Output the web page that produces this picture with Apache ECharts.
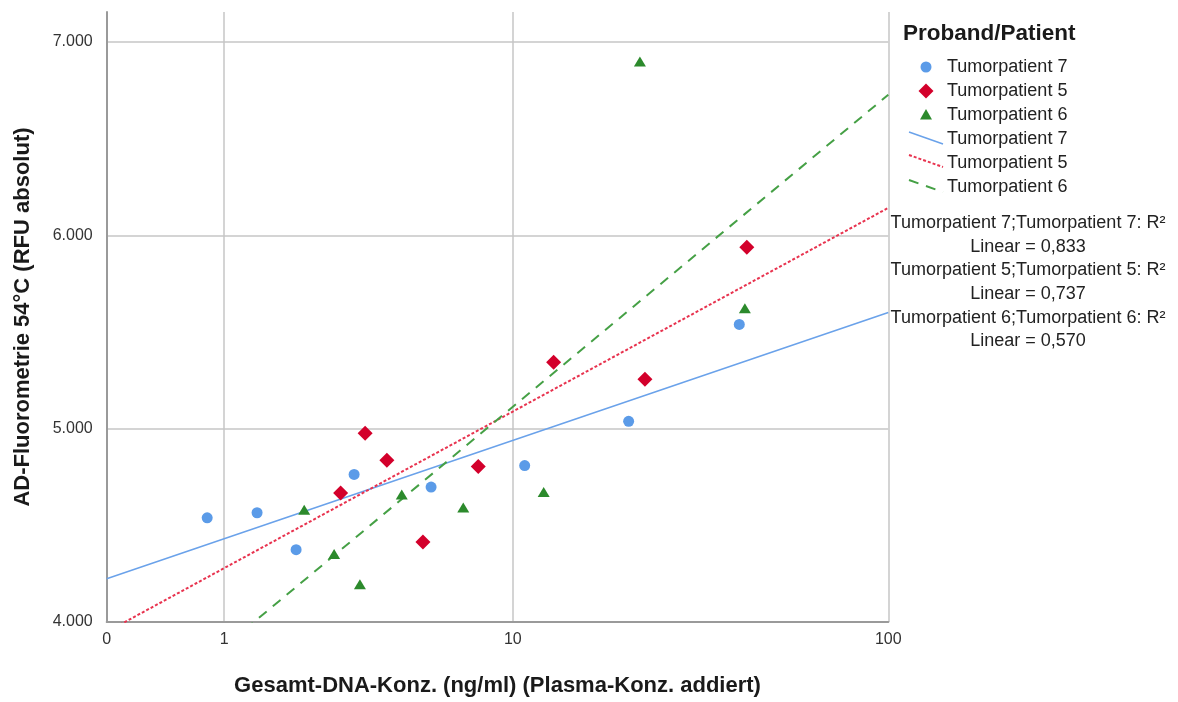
<!DOCTYPE html>
<html>
<head>
<meta charset="utf-8">
<script src="https://cdn.jsdelivr.net/npm/echarts@6/dist/echarts.min.js"></script>
<style>
  html, body { margin: 0; padding: 0; background: #fff; }
  #chart { width: 1178px; height: 702px; }
</style>
</head>
<body>
<div id="chart"></div>
<script>
// Gesamt-DNA-Konzentration (ng/ml) and AD-Fluorometrie values per patient
const xTickValues = [0, 1, 10, 100];
const yTickValues = [4000, 5000, 6000, 7000];

const tp7Conc = [0.81, 1.43, 2.06, 3.31, 5.79, 10.8, 20.8, 40.9];
const tp7Rfu  = [4539, 4565, 4374, 4763, 4698, 4809, 5038, 5539];

const tp5Conc = [2.98, 3.60, 4.23, 5.47, 7.97, 13.0, 23.0, 42.8];
const tp5Rfu  = [4667, 4976, 4837, 4414, 4804, 5343, 5256, 5938];

const tp6Conc = [2.21, 2.83, 3.46, 4.71, 7.21, 12.2, 22.3, 42.3];
const tp6Rfu  = [4580, 4352, 4195, 4660, 4592, 4673, 6899, 5623];

// Linear fit lines: values at the two ends of the concentration range
const fitConc = [0, 100];
const fit7Rfu = [4224, 5601];
const fit5Rfu = [3949, 6142];
const fit6Rfu = [3367, 6727];

const r2Labels = [
  ['Tumorpatient 7;Tumorpatient 7: R²', 'Linear = 0,833'],
  ['Tumorpatient 5;Tumorpatient 5: R²', 'Linear = 0,737'],
  ['Tumorpatient 6;Tumorpatient 6: R²', 'Linear = 0,570']
];

// "safe log" scale: log10(1 + x), so 0 can sit on the axis
const slog = v => Math.log10(1 + v);
const unslog = t => Math.pow(10, t) - 1;

const FONT = '"Liberation Sans", Arial, sans-serif';
const C7 = '#5b9be8', C5 = '#d3002b', C6 = '#2c8a2c';
const L7 = '#6aa2ea', L5 = '#e8334f', L6 = '#45a045';

const pts = (xs, ys) => xs.map((x, i) => [slog(x), ys[i]]);

const chart = echarts.init(document.getElementById('chart'), null, { renderer: 'canvas' });

const legendX = 926, textX = 947;
const legendRows = [67, 91, 115, 139, 163, 187];

const graphic = [
  { type: 'text', x: 903, y: 34, style: { text: 'Proband/Patient', font: 'bold 22.5px ' + FONT, fill: '#1a1a1a', textVerticalAlign: 'middle' } },
  { type: 'circle', shape: { cx: legendX, cy: legendRows[0], r: 5.5 }, style: { fill: C7 } },
  { type: 'polygon', shape: { points: [[legendX, legendRows[1] - 7.5], [legendX + 7.5, legendRows[1]], [legendX, legendRows[1] + 7.5], [legendX - 7.5, legendRows[1]]] }, style: { fill: C5 } },
  { type: 'polygon', shape: { points: [[legendX, legendRows[2] - 6], [legendX + 6, legendRows[2] + 4.5], [legendX - 6, legendRows[2] + 4.5]] }, style: { fill: C6 } },
  { type: 'line', shape: { x1: 909, y1: legendRows[3] - 7, x2: 943, y2: legendRows[3] + 5 }, style: { stroke: L7, lineWidth: 1.5 } },
  { type: 'line', shape: { x1: 909, y1: legendRows[4] - 8, x2: 943, y2: legendRows[4] + 4 }, style: { stroke: L5, lineWidth: 2, lineDash: [3, 2] } },
  { type: 'line', shape: { x1: 909, y1: legendRows[5] - 7, x2: 943, y2: legendRows[5] + 5 }, style: { stroke: L6, lineWidth: 2, lineDash: [10, 8] } }
];
const names = ['Tumorpatient 7', 'Tumorpatient 5', 'Tumorpatient 6', 'Tumorpatient 7', 'Tumorpatient 5', 'Tumorpatient 6'];
names.forEach((n, i) => {
  graphic.push({ type: 'text', x: textX, y: legendRows[i], style: { text: n, font: '18px ' + FONT, fill: '#222', textVerticalAlign: 'middle' } });
});
let ry = 223;
r2Labels.forEach(pair => {
  pair.forEach(line => {
    graphic.push({ type: 'text', x: 1028, y: ry, style: { text: line, font: '18px ' + FONT, fill: '#222', textAlign: 'center', textVerticalAlign: 'middle' } });
    ry += 23.7;
  });
});

const option = {
  animation: false,
  backgroundColor: '#fff',
  grid: { left: 106.7, right: 289.7, top: 12, bottom: 78.5, containLabel: false },
  xAxis: {
    type: 'value',
    min: slog(0),
    max: slog(100),
    name: 'Gesamt-DNA-Konz. (ng/ml) (Plasma-Konz. addiert)',
    nameLocation: 'middle',
    nameGap: 53,
    nameTextStyle: { fontFamily: FONT, fontSize: 22, fontWeight: 'bold', color: '#1a1a1a' },
    axisLine: { show: true, lineStyle: { color: '#9a9a9a', width: 2 } },
    axisTick: { show: false, customValues: xTickValues.map(slog) },
    axisLabel: {
      customValues: xTickValues.map(slog),
      formatter: v => String(Math.round(unslog(v))),
      fontFamily: FONT, fontSize: 16, color: '#333', margin: 10
    },
    splitLine: { show: true, lineStyle: { color: '#c6c6c6', width: 1.5 } }
  },
  yAxis: {
    type: 'value',
    min: 4000,
    max: 7155,
    name: 'AD-Fluorometrie 54°C (RFU absolut)',
    nameLocation: 'middle',
    nameGap: 73,
    nameRotate: 90,
    nameTextStyle: { fontFamily: FONT, fontSize: 22, fontWeight: 'bold', color: '#1a1a1a' },
    axisLine: { show: true, lineStyle: { color: '#9a9a9a', width: 2 } },
    axisTick: { show: false, customValues: yTickValues },
    axisLabel: {
      customValues: yTickValues,
      formatter: v => (v / 1000).toFixed(3),
      fontFamily: FONT, fontSize: 16, color: '#333', margin: 14
    },
    splitLine: { show: true, lineStyle: { color: '#c6c6c6', width: 1.5 } }
  },
  series: [
    { type: 'line', data: pts(fitConc, fit7Rfu), symbol: 'none', clip: true, lineStyle: { color: L7, width: 1.5 }, z: 3 },
    { type: 'line', data: pts(fitConc, fit5Rfu), symbol: 'none', clip: true, lineStyle: { color: L5, width: 2, type: [3, 2] }, z: 3 },
    { type: 'line', data: pts(fitConc, fit6Rfu), symbol: 'none', clip: true, lineStyle: { color: L6, width: 2, type: [10, 8] }, z: 3 },
    { type: 'scatter', data: pts(tp7Conc, tp7Rfu), symbol: 'circle', symbolSize: 11, itemStyle: { color: C7, opacity: 1 }, z: 4 },
    { type: 'scatter', data: pts(tp5Conc, tp5Rfu), symbol: 'diamond', symbolSize: 15, itemStyle: { color: C5, opacity: 1 }, z: 4 },
    { type: 'scatter', data: pts(tp6Conc, tp6Rfu), symbol: 'triangle', symbolSize: [12, 10], itemStyle: { color: C6, opacity: 1 }, z: 4 }
  ],
  graphic: graphic
};
chart.setOption(option);
</script>
</body>
</html>
